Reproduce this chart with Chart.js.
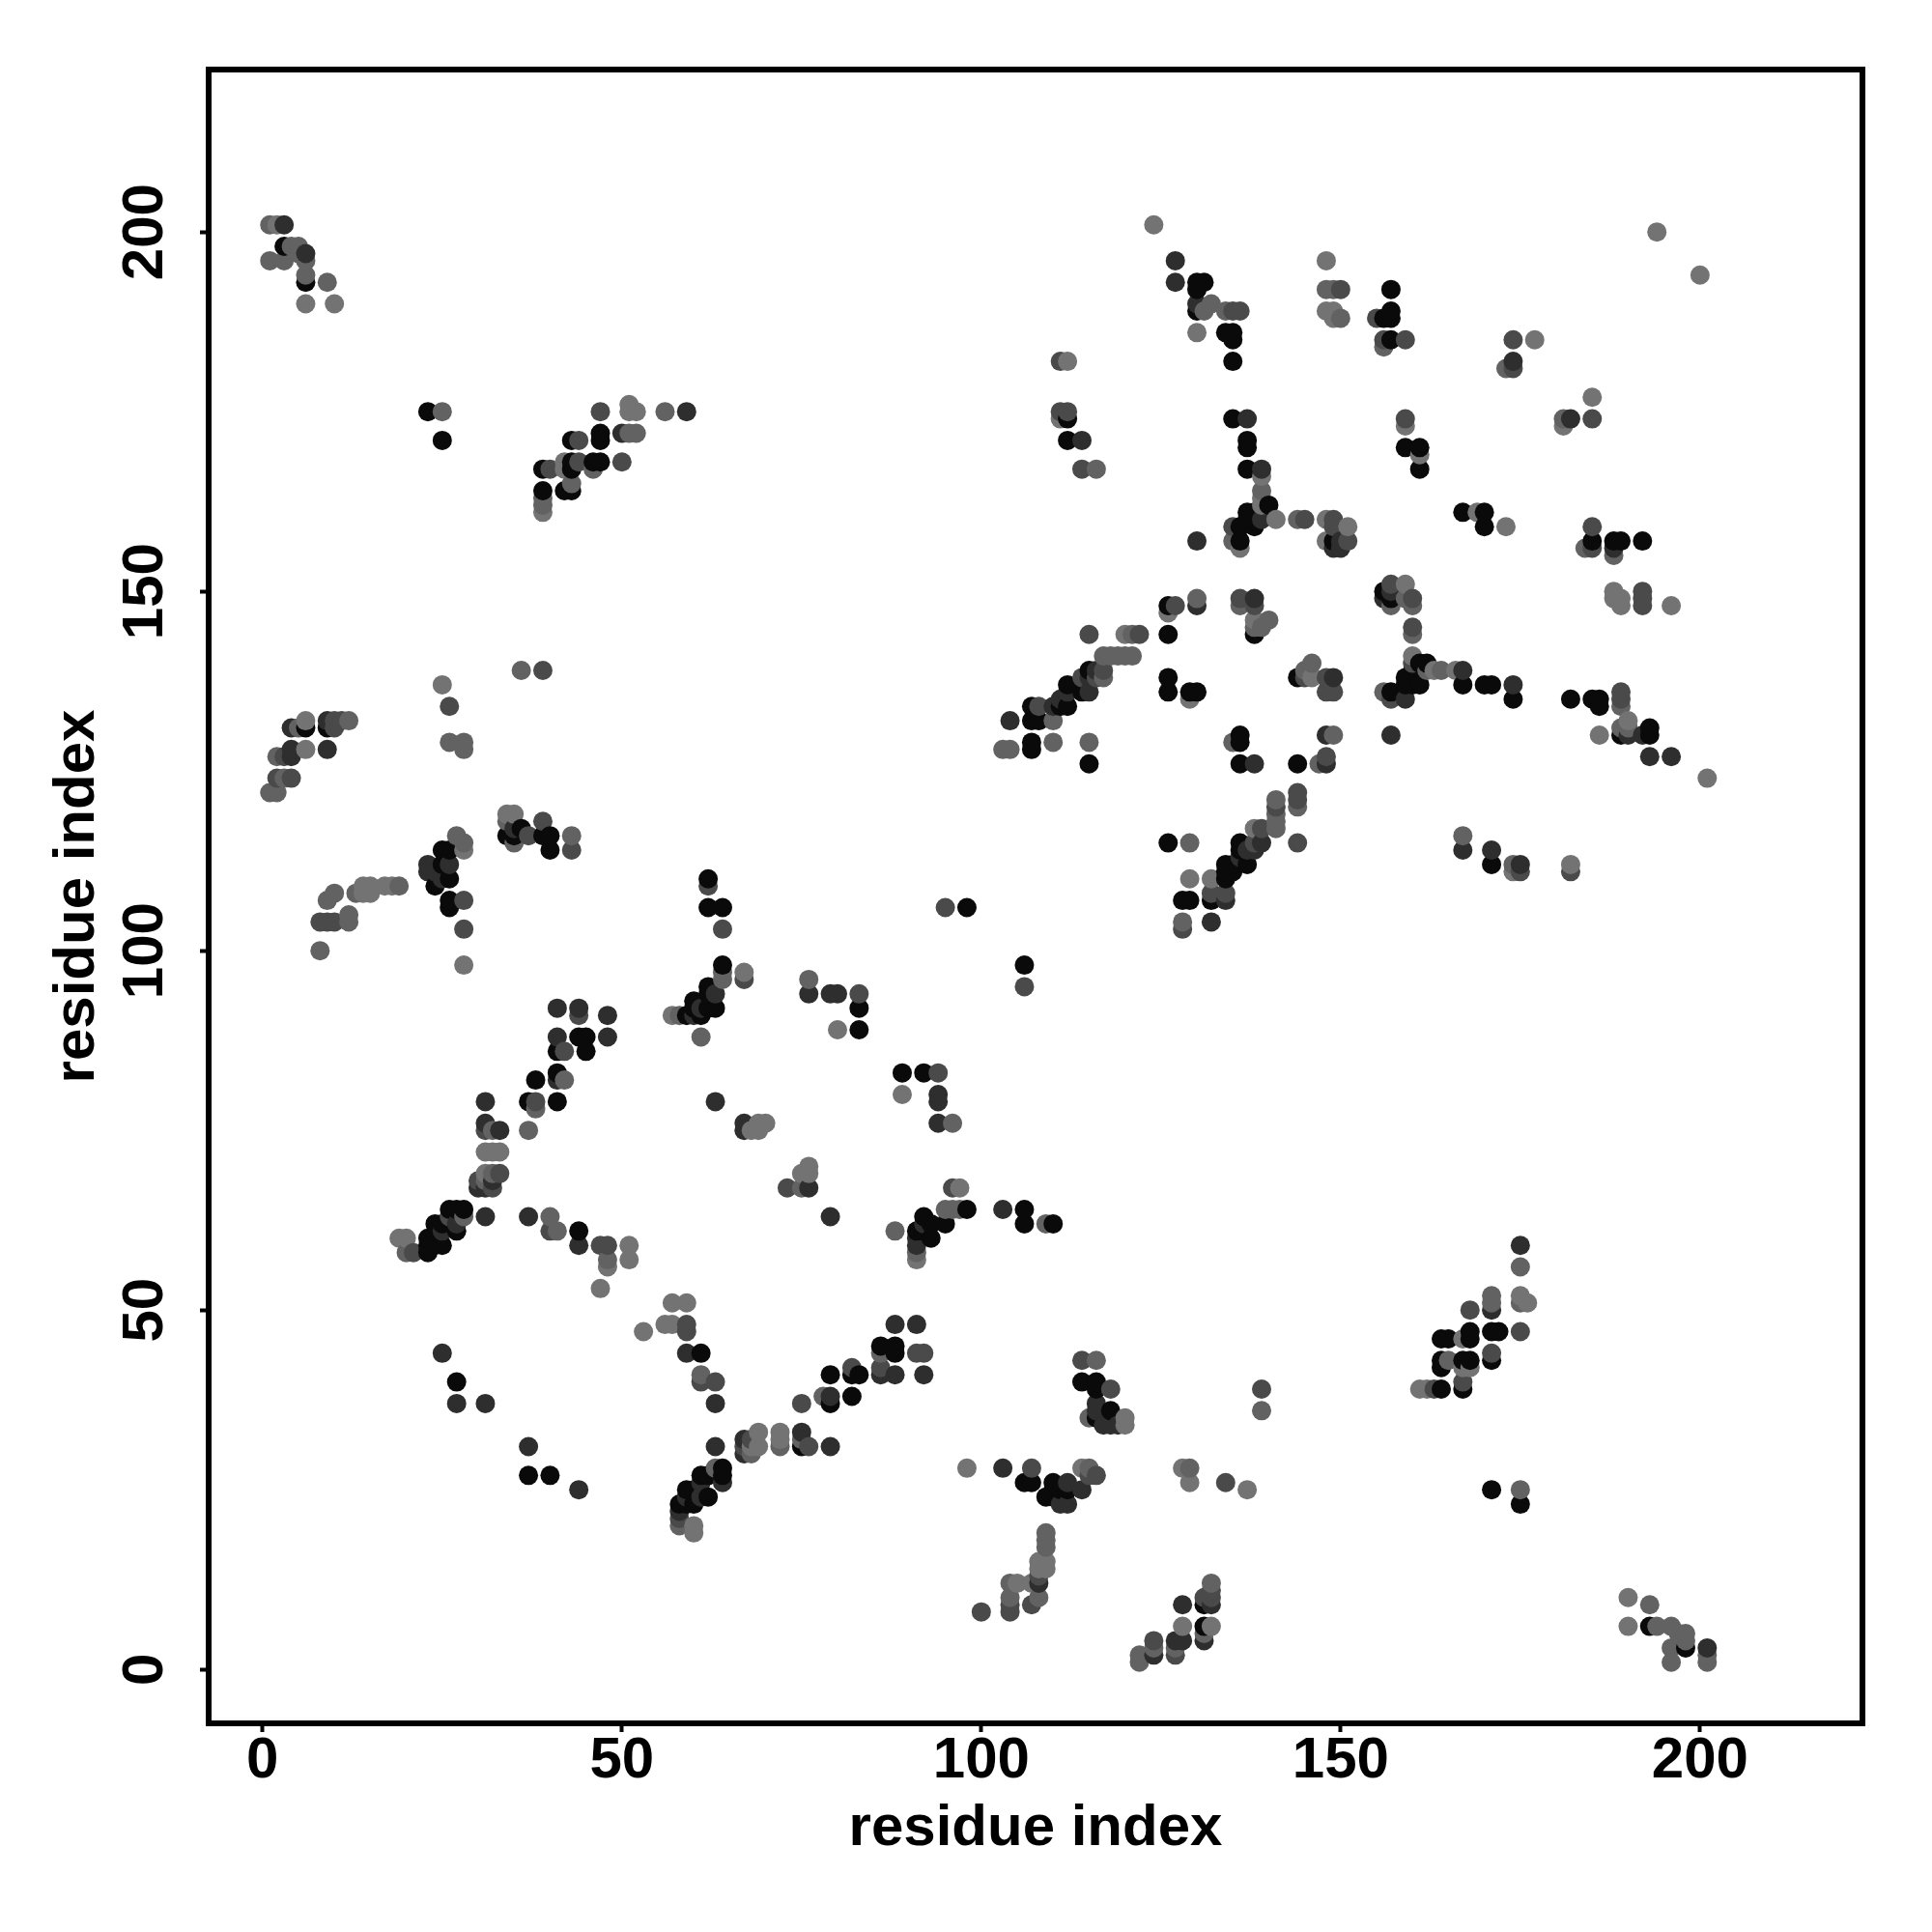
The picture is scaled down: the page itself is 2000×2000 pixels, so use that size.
<!DOCTYPE html>
<html lang="en">
<head>
  <meta charset="UTF-8">
  <title>residue contact map</title>
  <script src="https://cdn.jsdelivr.net/npm/chart.js"></script>
  <style>
    html, body { margin: 0; padding: 0; background: #fff; }
    canvas { display: block; }
  </style>
</head>
<body>
  <canvas id="contactChart" width="2000" height="2000"></canvas>

  <script>
    const axisTitle = "residue index";
    const tickValues = [0, 50, 100, 150, 200];

    // contacts as x,y pairs, one list per grey level
    const blackPairs = [3,198, 23,175, 25,171, 39,167, 39,164, 42,164, 43,164, 43,167, 43,168, 43,171, 46,168, 47,168, 47,171, 47,172,
      164,46, 165,46, 168,47, 168,46, 171,47, 172,47, 171,43, 168,43, 167,43, 164,43, 164,42, 167,39, 164,39, 193,6, 198,3,
      131,6, 131,9, 6,131, 9,131, 6,193, 36,117, 34,116, 35,116, 39,116, 40,116, 40,114, 25,114, 26,114, 25,112, 24,109, 26,110, 26,107, 26,106,
      62,110, 62,106, 64,106, 64,98, 98,106, 106,98, 130,193, 131,193, 130,192, 130,189, 134,186, 135,186, 135,185, 135,182,
      157,189, 157,188, 156,188, 157,185, 157,192, 112,174, 112,171, 135,174, 137,171, 137,170, 137,167, 140,162, 138,161, 137,161, 137,160, 138,160, 136,159, 138,159, 136,157,
      149,157, 159,170, 161,170, 161,167, 167,161, 170,161, 170,159, 185,157, 188,157, 189,157, 192,157, 156,150, 157,149, 126,148, 138,144, 126,144,
      115,139, 112,137, 114,136, 112,134, 111,134, 107,134, 107,132, 108,132, 107,129, 107,128, 115,126, 126,138, 126,136, 129,136, 130,136,
      136,130, 136,129, 136,126, 144,126, 144,138, 136,115, 136,114, 135,112, 134,112, 137,112, 134,111, 135,111, 134,110, 126,115, 132,107, 128,107, 129,107,
      157,136, 159,137, 160,137, 161,137, 159,138, 160,139, 161,140, 162,140, 167,137, 170,137, 171,137, 174,135, 182,135, 185,135, 186,135, 186,134, 189,130, 193,130, 193,131, 171,112,
      62,95, 62,94, 60,93, 62,92, 63,92, 60,92, 59,91, 61,91, 83,92, 83,89, 44,88, 45,88, 41,86, 45,86, 41,83, 38,82, 37,79, 41,79,
      26,64, 27,64, 28,64, 25,62, 24,62, 27,61, 23,60, 24,59, 25,59, 23,59, 23,58, 44,61, 89,83, 92,83,
      91,61, 93,60, 92,63, 93,62, 92,61, 95,62, 98,64, 106,64, 106,62, 110,62, 61,44, 27,40, 86,45, 88,45, 88,44, 82,41, 83,41, 79,41, 82,38, 79,37, 75,31, 37,27, 40,27,
      64,28, 64,27, 62,27, 61,27, 62,24, 60,25, 59,25, 60,23, 58,23, 59,23, 106,26, 107,26, 110,26, 111,25, 110,25, 109,24, 112,25, 110,24,
      116,40, 114,40, 116,39, 118,36, 116,35, 171,25, 175,23];
    const darkPairs = [3,201, 6,197, 4,128, 4,127, 4,131, 9,128, 9,132, 128,9, 127,4, 128,4, 124,2, 131,4, 132,9, 201,3, 171,50, 175,59, 59,175,
      23,112, 23,111, 26,112, 25,110, 24,111, 35,117, 50,172, 127,196, 127,193, 130,190, 174,182, 182,174, 114,171, 137,174, 139,167, 139,160, 130,157, 150,157, 149,156, 150,156,
      188,156, 157,150, 156,149, 130,148, 138,149, 116,139, 115,138, 115,136, 112,136, 111,135, 110,134, 104,132, 138,126, 148,130, 148,126, 149,138,
      139,115, 138,114, 136,113, 137,114, 134,107, 132,104, 159,135, 157,130, 167,139, 174,137, 190,130, 192,130, 193,127, 196,127, 167,114, 171,114, 175,112,
      63,94, 61,92, 60,91, 76,94, 79,94, 80,94, 41,92, 44,92, 48,91, 41,88, 48,88, 41,82, 31,79, 31,76, 33,75, 32,68, 30,67, 31,67, 31,63, 27,62, 25,61, 37,63, 44,59, 63,79, 67,76, 67,75, 76,67,
      94,80, 94,79, 94,76, 79,63, 91,60, 91,59, 92,62, 103,64, 88,48, 91,48, 86,41, 88,41, 92,41, 79,38, 75,33, 79,31, 67,32, 67,30, 63,31, 37,31, 44,25, 25,44, 27,37, 31,37, 63,37, 59,44,
      64,26, 61,26, 59,24, 61,24, 58,22, 103,28, 112,26, 114,25, 112,23, 111,23, 116,37, 116,36, 118,35, 117,34, 118,34, 119,34, 108,12];
    const midPairs = [26,134, 2,124, 4,124, 3,127, 10,131, 10,132, 11,132, 40,167, 44,168, 44,171, 47,175, 50,168, 168,50, 171,44, 175,47, 167,40, 163,39, 127,2, 124,4, 132,10, 131,10, 132,11,
      39,118, 43,114, 37,116, 28,107, 28,103, 8,104, 9,104, 10,104, 62,109, 64,103, 95,106, 39,139, 135,189, 136,189, 150,192, 155,188, 156,185, 159,185, 174,185, 174,181, 185,174,
      111,182, 111,175, 112,175, 114,167, 135,159, 145,160, 149,160, 149,159, 151,157, 159,174, 185,159, 185,156, 192,150, 192,149, 192,148, 157,151, 160,149, 160,145, 127,148, 136,149, 138,148,
      115,144, 122,144, 117,139, 114,138, 116,138, 108,134, 148,127, 145,138, 148,138, 148,136, 149,136, 144,122, 144,121, 141,120, 139,117, 138,115, 144,115, 134,108, 132,108, 128,103,
      160,140, 157,135, 189,136, 189,135, 175,111, 182,111, 67,96, 83,94, 44,91, 42,86, 38,79, 31,75, 33,69, 30,68, 32,67, 26,63, 40,61, 47,59, 48,59, 21,58, 73,67, 94,83, 96,67,
      59,48, 59,47, 61,40, 63,40, 91,44, 92,44, 82,42, 86,42, 75,37, 76,31, 68,32, 67,31, 58,21, 100,8, 104,9, 104,8, 107,9, 107,28, 115,27, 116,27, 108,13, 114,43, 118,39, 139,39, 134,26, 106,95];
    const greyPairs = [1,201, 1,196, 3,196, 4,198, 5,198, 6,196, 5,197, 6,194, 9,193, 193,9, 194,6, 196,6, 197,5, 198,5, 198,4, 196,3, 196,1, 201,2, 201,1, 122,2, 122,1, 124,3, 127,3, 131,5, 132,12,
      25,175, 39,163, 39,162, 43,165, 46,167, 51,172, 52,172, 56,175, 175,25, 175,56, 171,52, 171,51, 175,51, 165,43, 26,129, 28,129, 28,128, 36,139,
      1,122, 2,122, 3,124, 2,127, 5,131, 12,132, 27,116, 28,115, 34,118, 35,115, 43,116, 8,100, 12,104, 12,105, 9,107, 10,108, 13,108, 19,109,
      148,192, 149,192, 150,188, 156,184, 173,181, 181,174, 116,167, 139,164, 138,145, 139,145, 140,146, 159,149, 160,148, 160,144, 157,148, 130,149, 136,148, 131,189, 132,190, 134,189, 135,157, 144,160,
      121,144, 117,141, 118,141, 119,141, 120,141, 121,141, 117,138, 110,132, 103,128, 104,128, 110,129, 115,129, 135,129, 149,130, 147,126, 146,140, 145,139, 144,120, 141,121, 141,119, 141,118, 141,117, 129,115,
      156,136, 162,139, 164,139, 184,156, 188,155, 189,134, 189,131, 190,131, 167,116, 174,112, 64,96, 64,97, 61,88, 58,91, 76,96, 42,82, 38,78, 37,75, 32,75, 32,69, 31,68,
      28,63, 20,58, 41,61, 40,63, 48,57, 75,67, 96,76, 88,61, 91,58, 95,64, 96,64, 97,64, 61,41, 86,44, 78,38, 75,32, 72,31, 68,30, 63,28, 58,20, 115,28, 116,43, 115,35, 129,28, 139,36,
      104,12, 104,10, 108,10, 109,17, 109,18, 109,19, 109,62, 128,104];
    const lightPairs = [2,201, 6,190, 10,190, 190,10, 190,6, 39,161, 42,167, 42,168, 51,176, 51,175, 52,175, 162,39, 161,39, 167,46, 168,42, 167,42, 175,52, 176,51, 25,137, 6,128, 6,132, 128,6, 132,6,
      34,119, 35,119, 28,114, 28,98, 14,108, 14,109, 15,109, 15,108, 17,109, 18,109, 67,97, 124,201, 130,186, 148,196, 148,189, 149,189, 149,188, 177,185, 185,177, 181,173, 194,200, 200,194, 112,182, 111,174,
      139,166, 139,163, 139,162, 141,160, 136,156, 148,160, 151,159, 148,157, 159,173, 161,169, 169,161, 173,159, 188,150, 188,149, 189,149, 189,148, 196,148, 159,151, 160,141, 126,147, 138,146, 129,135,
      120,144, 146,138, 138,117, 129,110, 132,110, 163,139, 166,139, 190,132, 186,130, 201,124, 182,112, 174,111, 57,91, 80,89, 31,72, 32,72, 33,72, 31,69, 19,60, 20,60, 48,56, 51,59, 51,57, 47,53,
      68,75, 69,75, 70,76, 69,76, 89,80, 76,70, 75,69, 76,69, 91,57, 97,67, 57,51, 59,51, 56,48, 57,48, 53,47, 72,33, 72,32, 69,33, 69,31, 68,31, 60,20, 60,19,
      98,28, 114,28, 120,35, 120,34, 128,28, 129,26, 137,25, 105,12, 107,12, 108,15, 109,15, 109,14, 108,14];

    const shadeLists = [
      [blackPairs, "#0a0a0a"],
      [darkPairs, "#2e2e2e"],
      [midPairs, "#4a4a4a"],
      [greyPairs, "#626262"],
      [lightPairs, "#737373"]
    ];

    // merge the lists and draw in x then y order, later points sit on top
    const contacts = [];
    shadeLists.forEach(([pairs, color]) => {
      for (let i = 0; i < pairs.length; i += 2) {
        contacts.push({ x: pairs[i], y: pairs[i + 1], color });
      }
    });
    contacts.sort((a, b) => a.x - b.x || a.y - b.y);

    const framePlugin = {
      id: "frame",
      afterDatasetsDraw(chart) {
        const { ctx, chartArea: a } = chart;
        ctx.save();
        ctx.strokeStyle = "#000";
        ctx.lineWidth = 6;
        ctx.strokeRect(a.left, a.top, a.right - a.left, a.bottom - a.top);
        ctx.restore();
      }
    };

    function axisOptions(size) {
      return {
        type: "linear",
        min: -7.5,
        max: 222.6,
        afterBuildTicks: axis => { axis.ticks = tickValues.map(v => ({ value: v })); },
        afterFit: axis => { if (axis.isHorizontal()) axis.height = size; else axis.width = size; },
        border: { display: false },
        grid: { drawOnChartArea: false, drawTicks: true, tickLength: 9, tickWidth: 4, tickColor: "#000" },
        title: {
          display: true,
          text: axisTitle,
          color: "#000",
          font: { family: "Liberation Sans", size: 60, weight: "bold" },
          padding: 0
        }
      };
    }

    const xAxis = axisOptions(216);
    xAxis.ticks = { color: "#000", font: { family: "Liberation Sans", size: 60, weight: "bold" }, padding: -6, maxRotation: 0 };
    xAxis.title.padding = { top: 0, bottom: 71 };
    const yAxis = axisOptions(216);
    yAxis.ticks = { color: "#000", font: { family: "Liberation Sans", size: 60, weight: "bold" }, padding: 5, minRotation: 90, maxRotation: 90, crossAlign: "center" };
    yAxis.title.padding = { top: 44, bottom: 0 };

    new Chart(document.getElementById("contactChart").getContext("2d"), {
      type: "scatter",
      data: {
        datasets: [{
          data: contacts.map(p => ({ x: p.x, y: p.y })),
          pointRadius: 10,
          pointBorderWidth: 0,
          pointBackgroundColor: contacts.map(p => p.color)
        }]
      },
      options: {
        responsive: false,
        animation: false,
        devicePixelRatio: 1,
        layout: { padding: { top: 72, right: 72, left: 0, bottom: 0 } },
        plugins: { legend: { display: false }, tooltip: { enabled: false } },
        scales: { x: xAxis, y: yAxis }
      },
      plugins: [framePlugin]
    });
  </script>
</body>
</html>
